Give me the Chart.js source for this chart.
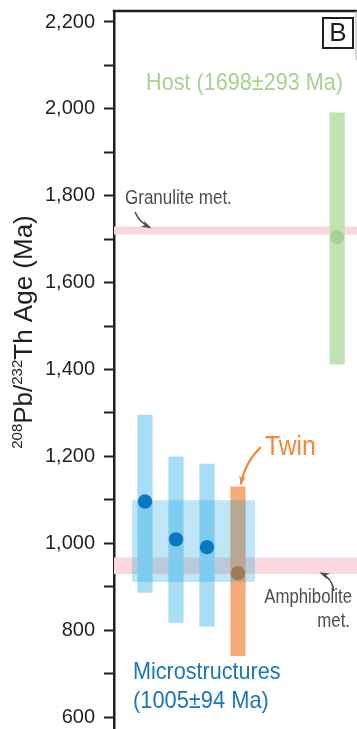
<!DOCTYPE html>
<html>
<head>
<meta charset="utf-8">
<script src="https://cdn.jsdelivr.net/npm/chart.js@4.4.1/dist/chart.umd.min.js"></script>
<style>
  body { margin: 0; background: #fff; }
  canvas { display: block; }
</style>
</head>
<body>
<canvas id="chart" width="357" height="729"></canvas>
<script>
// grain ages (Ma)
const grains = ['M1', 'M2', 'M3', 'Twin', 'Host'];
const grainX = [1, 2, 3, 4, 7.2];
const ages = [1096, 1009, 991, 931, 1705];
const ageLow = [887, 818, 809, 741, 1412];
const ageHigh = [1295, 1199, 1182, 1130, 1991];

// microstructure mean age box
const microMean = 1005;
const microErr = 94;
const microSpan = [0.58, 4.55];

// metamorphic events
const granuliteBand = [1711, 1729];
const amphiboliteBand = [929, 967];

const xRange = [0, 7.84];
const yRange = [572.4, 2225.3];

const barColors = ['#a8def5', '#a8def5', '#a8def5', '#f5ab7b', '#c3e2b2'];
const dotColors = ['#0b77c2', '#0b77c2', '#0b77c2', '#a37b55', '#a6d294'];

function band(lim) {
  return {
    type: 'line',
    data: [{ x: xRange[0], y: lim[1] }, { x: xRange[1], y: lim[1] }],
    borderColor: 'rgba(0,0,0,0)',
    backgroundColor: '#fbd8dc',
    pointRadius: 0,
    fill: { value: lim[0] },
    order: 5
  };
}

function condensed(ctx, s, x, y, font, color, align, sx) {
  ctx.save();
  ctx.font = font;
  ctx.fillStyle = color;
  ctx.textAlign = align;
  ctx.textBaseline = 'alphabetic';
  ctx.translate(x, y);
  ctx.scale(sx, 1);
  ctx.fillText(s, 0, 0);
  ctx.restore();
}

function arrow(ctx, x0, y0, cx, cy, x1, y1, color, w) {
  ctx.save();
  ctx.strokeStyle = color;
  ctx.fillStyle = color;
  ctx.lineWidth = w;
  ctx.beginPath();
  ctx.moveTo(x0, y0);
  ctx.quadraticCurveTo(cx, cy, x1, y1);
  ctx.stroke();
  const a = Math.atan2(y1 - cy, x1 - cx);
  const L = 9;
  ctx.beginPath();
  ctx.moveTo(x1 + 1.5 * Math.cos(a), y1 + 1.5 * Math.sin(a));
  ctx.lineTo(x1 - L * Math.cos(a - 0.38), y1 - L * Math.sin(a - 0.38));
  ctx.lineTo(x1 - L * 0.6 * Math.cos(a), y1 - L * 0.6 * Math.sin(a));
  ctx.lineTo(x1 - L * Math.cos(a + 0.38), y1 - L * Math.sin(a + 0.38));
  ctx.closePath();
  ctx.fill();
  ctx.restore();
}

const decor = {
  id: 'decor',
  afterDraw(chart) {
    const ctx = chart.ctx;
    const a = chart.chartArea;
    ctx.save();
    // frame top and faint right edge
    ctx.strokeStyle = '#231f20';
    ctx.lineWidth = 2.5;
    ctx.beginPath();
    ctx.moveTo(a.left - 1.25, a.top);
    ctx.lineTo(chart.width, a.top);
    ctx.stroke();
    ctx.strokeStyle = '#b0b0b0';
    ctx.lineWidth = 1;
    ctx.beginPath();
    ctx.moveTo(356, a.top);
    ctx.lineTo(356, 60);
    ctx.stroke();

    // panel letter
    ctx.strokeStyle = '#231f20';
    ctx.lineWidth = 2;
    ctx.strokeRect(323, 18, 30, 30);
    ctx.fillStyle = '#231f20';
    ctx.font = '26px "Liberation Sans", Arial, sans-serif';
    ctx.textAlign = 'center';
    ctx.textBaseline = 'middle';
    ctx.fillText('B', 338, 33.5);

    // y title with superscripts
    ctx.translate(32, 332);
    ctx.rotate(-Math.PI / 2);
    const big = '26px "Liberation Sans", Arial, sans-serif';
    const small = '15px "Liberation Sans", Arial, sans-serif';
    const parts = [['208', small, -10.5], ['Pb/', big, 0], ['232', small, -10.5], ['Th Age (Ma)', big, 0]];
    let total = 0;
    parts.forEach(p => { ctx.font = p[1]; total += ctx.measureText(p[0]).width; });
    let px = -total / 2;
    ctx.textAlign = 'left';
    ctx.textBaseline = 'alphabetic';
    parts.forEach(p => {
      ctx.font = p[1];
      ctx.fillText(p[0], px, p[2]);
      px += ctx.measureText(p[0]).width;
    });
    ctx.restore();

    const f = 'px "Liberation Sans", Arial, sans-serif';
    condensed(ctx, 'Host (1698\u00b1293 Ma)', 244.5, 90, '24' + f, '#a6d18f', 'center', 0.9);
    condensed(ctx, 'Granulite met.', 125, 204, '21' + f, '#4d4d4d', 'left', 0.81);
    condensed(ctx, 'Twin', 265, 455, '28' + f, '#f1873a', 'left', 0.88);
    condensed(ctx, 'Amphibolite', 352, 603, '21' + f, '#4d4d4d', 'right', 0.8);
    condensed(ctx, 'met.', 350, 627, '21' + f, '#4d4d4d', 'right', 0.8);
    condensed(ctx, 'Microstructures', 133, 679, '24' + f, '#1b75bb', 'left', 0.9);
    condensed(ctx, '(' + microMean + '\u00b1' + microErr + ' Ma)', 133, 708, '24' + f, '#1b75bb', 'left', 0.91);

    arrow(ctx, 135, 212, 139, 222, 150, 227.5, '#4d4d4d', 1.6);
    arrow(ctx, 261, 447, 245, 462, 241, 484, '#f1873a', 2.2);
    arrow(ctx, 334, 591, 332, 578, 321, 573, '#4d4d4d', 1.6);
  }
};

new Chart(document.getElementById('chart'), {
  type: 'bar',
  data: {
    datasets: [
      band(granuliteBand),
      band(amphiboliteBand),
      {
        type: 'bar',
        data: grains.map((g, i) => ({ x: grainX[i], y: [ageLow[i], ageHigh[i]] })),
        backgroundColor: barColors,
        borderWidth: 0,
        barThickness: 14.6,
        grouped: false,
        order: 4
      },
      {
        type: 'line',
        data: [{ x: microSpan[0], y: microMean + microErr }, { x: microSpan[1], y: microMean + microErr }],
        borderColor: 'rgba(0,0,0,0)',
        backgroundColor: 'rgba(0,156,223,0.25)',
        pointRadius: 0,
        fill: { value: microMean - microErr },
        order: 3
      },
      {
        type: 'scatter',
        data: grains.map((g, i) => ({ x: grainX[i], y: ages[i] })),
        pointRadius: 7.2,
        pointBorderWidth: 0,
        pointBackgroundColor: dotColors,
        order: 1
      }
    ]
  },
  options: {
    responsive: false,
    animation: false,
    devicePixelRatio: 1,
    layout: { autoPadding: false, padding: { top: 11, right: 0, bottom: 0, left: 0 } },
    plugins: { legend: { display: false }, tooltip: { enabled: false } },
    scales: {
      x: { type: 'linear', min: xRange[0], max: xRange[1], offset: false, display: false },
      y: {
        type: 'linear',
        min: yRange[0],
        max: yRange[1],
        afterFit(scale) {
          scale.width = 114;
          scale.paddingTop = 0;
          scale.paddingBottom = 0;
        },
        border: { display: true, color: '#231f20', width: 2.5 },
        grid: { drawOnChartArea: false, tickLength: 10, tickWidth: 2, tickColor: '#231f20' },
        ticks: {
          stepSize: 100,
          includeBounds: false,
          autoSkip: false,
          padding: 9,
          color: '#231f20',
          font: { family: '"Liberation Sans", Arial, sans-serif', size: 20 },
          callback: v => (v % 200 === 0 ? v.toLocaleString('en-US') : '')
        }
      }
    }
  },
  plugins: [decor]
});
</script>
</body>
</html>
